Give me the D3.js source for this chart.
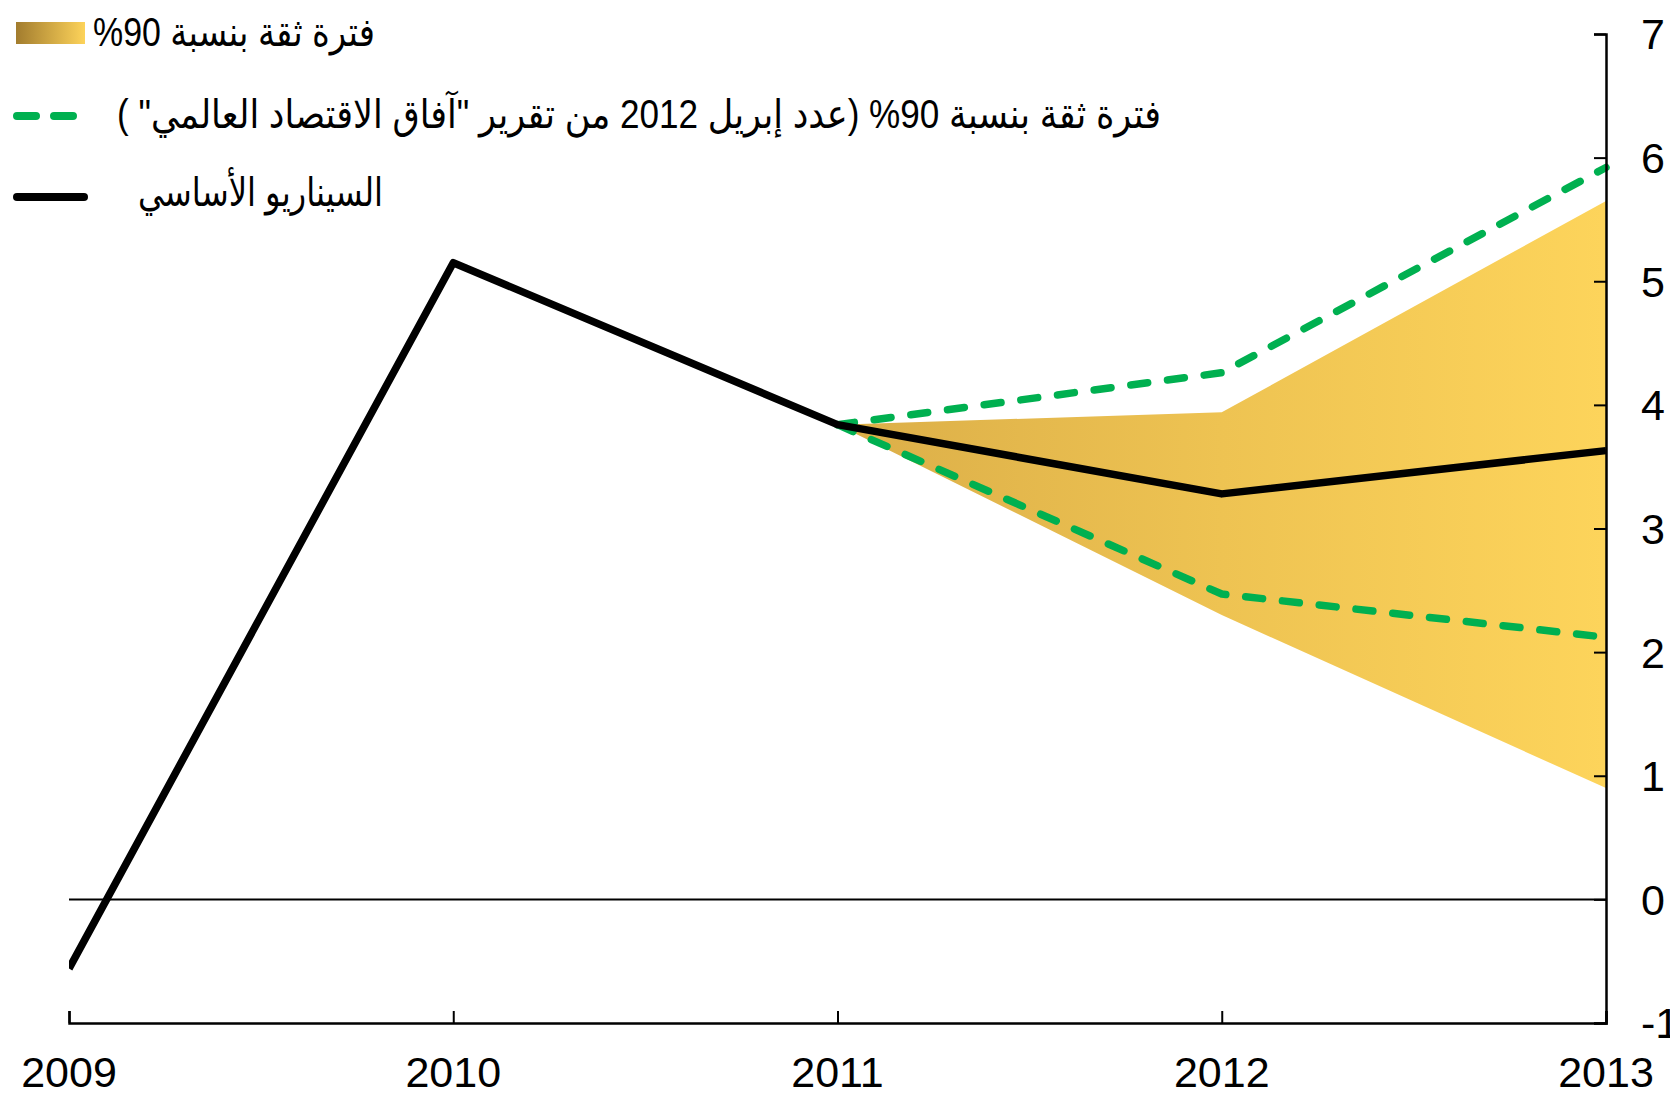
<!DOCTYPE html>
<html lang="ar">
<head>
<meta charset="utf-8">
<script src="https://cdn.jsdelivr.net/npm/d3@7"></script>
<style>
  body { margin: 0; background: #fff; }
  svg { display: block; font-family: "Liberation Sans", Arial, "DejaVu Sans", sans-serif; }
</style>
</head>
<body>
<div id="chart"></div>
<script>

// values
var years = [2009, 2010, 2011, 2012, 2013]
var baseline = [-0.56, 5.15, 3.84, 3.28, 3.63]

var fan_years = [2011, 2012, 2013]
var fan_low = [3.84, 2.30, 0.90]
var fan_high = [3.84, 3.94, 5.65]

var weo_low = [3.84, 2.47, 2.12]
var weo_high = [3.84, 4.26, 5.92]

var y_ticks = [-1, 0, 1, 2, 3, 4, 5, 6, 7]

var legend_labels = [
  "فترة ثقة بنسبة 90%",
  "فترة ثقة بنسبة 90% (عدد إبريل 2012 من تقرير \"آفاق الاقتصاد العالمي\" )",
  "السيناريو الأساسي"
]

var width = 1670
var height = 1095

var svg = d3.select("#chart").append("svg")
  .attr("width", width)
  .attr("height", height)

// scales
var x = d3.scaleLinear().domain([2009, 2013]).range([69, 1606])
var y = d3.scaleLinear().domain([-1, 7]).range([1023, 34])

var defs = svg.append("defs")

// gradient for the fan in the chart
var grad = defs.append("linearGradient")
  .attr("id", "fan-grad")
  .attr("gradientUnits", "userSpaceOnUse")
  .attr("x1", x(2011)).attr("x2", x(2013))
  .attr("y1", 0).attr("y2", 0)
grad.append("stop").attr("offset", "0%").attr("stop-color", "#dbae48")
grad.append("stop").attr("offset", "50%").attr("stop-color", "#eec352")
grad.append("stop").attr("offset", "100%").attr("stop-color", "#fdd45b")

// gradient for the legend swatch
var grad_legend = defs.append("linearGradient")
  .attr("id", "legend-grad")
  .attr("x1", "0%").attr("x2", "100%")
grad_legend.append("stop").attr("offset", "0%").attr("stop-color", "#a27c2e")
grad_legend.append("stop").attr("offset", "100%").attr("stop-color", "#fdd35a")

defs.append("clipPath").attr("id", "plot-clip")
  .append("rect")
  .attr("x", x(2009)).attr("y", 0)
  .attr("width", x(2013) - x(2009) + 10).attr("height", y(-1))

var plot = svg.append("g").attr("clip-path", "url(#plot-clip)")

// confidence fan
var fan_data = fan_years.map(function(d, i){ return {year: d, low: fan_low[i], high: fan_high[i]} })
plot.append("path")
  .datum(fan_data)
  .attr("fill", "url(#fan-grad)")
  .attr("d", d3.area()
    .x(function(d){ return x(d.year) })
    .y0(function(d){ return y(d.low) })
    .y1(function(d){ return y(d.high) }))

// zero line
svg.append("line")
  .attr("x1", x(2009)).attr("x2", x(2013))
  .attr("y1", y(0)).attr("y2", y(0))
  .attr("stroke", "#000")
  .attr("stroke-width", 2)

// dashed lines from april 2012 weo
var dash_line = d3.line()
  .x(function(d, i){ return x(fan_years[i]) })
  .y(function(d){ return y(d) })

;[weo_high, weo_low].forEach(function(series){
  plot.append("path")
    .datum(series)
    .attr("fill", "none")
    .attr("stroke", "#00b050")
    .attr("stroke-width", 7.5)
    .attr("stroke-dasharray", "17,20")
    .attr("stroke-linecap", "round")
    .attr("stroke-linejoin", "round")
    .attr("d", dash_line)
})

// baseline scenario
plot.append("path")
  .datum(baseline)
  .attr("fill", "none")
  .attr("stroke", "#000")
  .attr("stroke-width", 7.5)
  .attr("stroke-linejoin", "round")
  .attr("d", d3.line()
    .x(function(d, i){ return x(years[i]) })
    .y(function(d){ return y(d) }))

// right axis
var y_axis = svg.append("g")
  .attr("transform", "translate(" + x(2013) + ",0)")
  .call(d3.axisLeft(y).tickValues(y_ticks).tickSize(12).tickFormat(""))
y_axis.select(".domain").attr("stroke-width", 2.5)
y_axis.selectAll(".tick line").attr("stroke-width", 2)

svg.append("g").selectAll("text")
  .data(y_ticks)
  .enter().append("text")
    .attr("x", 1641)
    .attr("y", function(d){ return y(d) })
    .attr("dy", "0.36em")
    .attr("font-size", 43)
    .text(function(d){ return d })

// bottom axis
var x_axis = svg.append("g")
  .attr("transform", "translate(0," + y(-1) + ")")
  .call(d3.axisTop(x).tickValues(years).tickSize(12).tickFormat(""))
x_axis.select(".domain").attr("stroke-width", 2.5)
x_axis.selectAll(".tick line").attr("stroke-width", 2)

svg.append("g").selectAll("text")
  .data(years)
  .enter().append("text")
    .attr("x", function(d){ return x(d) })
    .attr("y", 1087)
    .attr("text-anchor", "middle")
    .attr("font-size", 43)
    .text(function(d){ return d })

// legend
function create_legend(){

  var legend = svg.append("g").attr("class", "legend")

  // swatch for the fan
  legend.append("rect")
    .attr("x", 16).attr("y", 22)
    .attr("width", 69).attr("height", 22)
    .attr("fill", "url(#legend-grad)")

  // green dashes
  legend.append("line")
    .attr("x1", 17).attr("x2", 76)
    .attr("y1", 116).attr("y2", 116)
    .attr("stroke", "#00b050")
    .attr("stroke-width", 8)
    .attr("stroke-linecap", "round")
    .attr("stroke-dasharray", "19,18")

  // black line
  legend.append("line")
    .attr("x1", 17).attr("x2", 84)
    .attr("y1", 197).attr("y2", 197)
    .attr("stroke", "#000")
    .attr("stroke-width", 8)
    .attr("stroke-linecap", "round")

  var text_x = [93, 117, 138]
  var text_y = [46, 128, 206]
  var text_w = [282, 1044, 245]

  legend.selectAll("text")
    .data(legend_labels)
    .enter().append("text")
      .attr("x", function(d, i){ return text_x[i] })
      .attr("y", function(d, i){ return text_y[i] })
      .attr("direction", "rtl")
      .attr("text-anchor", "end")
      .attr("font-size", 40)
      .attr("textLength", function(d, i){ return text_w[i] })
      .attr("lengthAdjust", "spacingAndGlyphs")
      .text(function(d){ return d })
}

create_legend()

</script>
</body>
</html>
